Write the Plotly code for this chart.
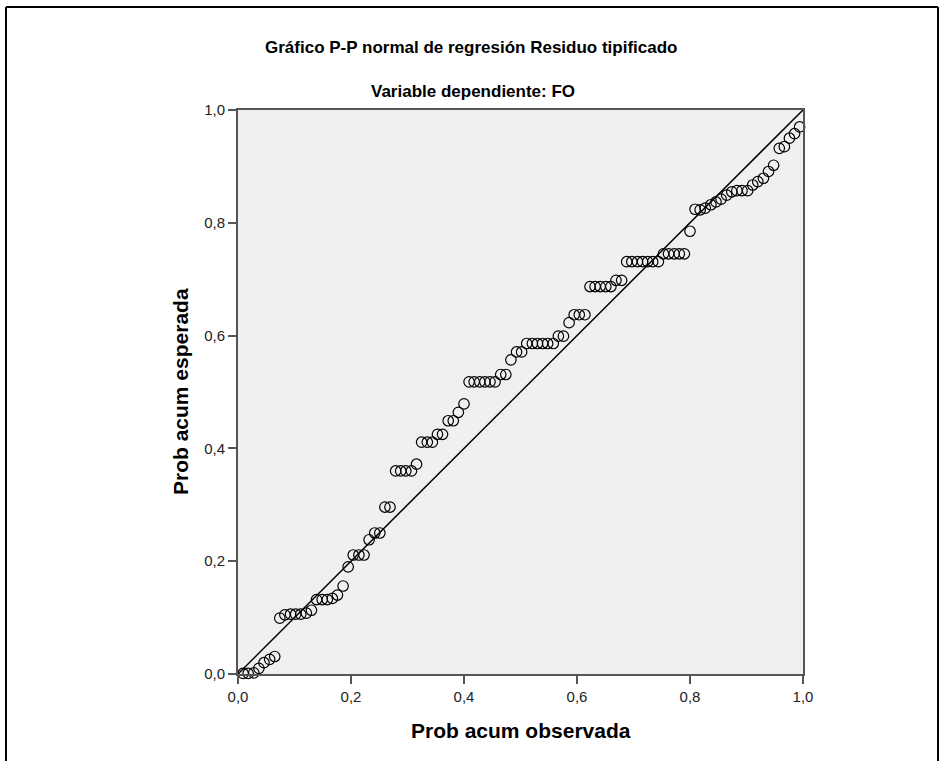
import plotly.graph_objects as go

# Observed cumulative probabilities (x) and expected cumulative probabilities (y)
prob_observada = [
    0.009, 0.018, 0.028, 0.037, 0.046, 0.056, 0.065, 0.074, 0.083, 0.093,
    0.102, 0.111, 0.121, 0.130, 0.139, 0.149, 0.158, 0.167, 0.176, 0.186,
    0.195, 0.204, 0.214, 0.223, 0.232, 0.242, 0.251, 0.260, 0.269, 0.279,
    0.288, 0.297, 0.307, 0.316, 0.325, 0.335, 0.344, 0.353, 0.362, 0.372,
    0.381, 0.390, 0.400, 0.409, 0.418, 0.428, 0.437, 0.446, 0.455, 0.465,
    0.474, 0.483, 0.493, 0.502, 0.511, 0.521, 0.530, 0.539, 0.548, 0.558,
    0.567, 0.576, 0.586, 0.595, 0.604, 0.614, 0.623, 0.632, 0.641, 0.651,
    0.660, 0.669, 0.679, 0.688, 0.697, 0.707, 0.716, 0.725, 0.734, 0.744,
    0.753, 0.762, 0.772, 0.781, 0.790, 0.800, 0.809, 0.818, 0.827, 0.837,
    0.846, 0.855, 0.865, 0.874, 0.883, 0.892, 0.902, 0.911, 0.920, 0.930,
    0.939, 0.948, 0.958, 0.967, 0.976, 0.985, 0.994,
]
prob_esperada = [
    0.001, 0.001, 0.002, 0.010, 0.020, 0.026, 0.031, 0.099, 0.105, 0.106,
    0.106, 0.106, 0.108, 0.113, 0.132, 0.132, 0.132, 0.134, 0.140, 0.156,
    0.190, 0.211, 0.211, 0.211, 0.238, 0.250, 0.250, 0.296, 0.296, 0.360,
    0.360, 0.360, 0.360, 0.372, 0.411, 0.411, 0.411, 0.425, 0.425, 0.449,
    0.449, 0.464, 0.479, 0.518, 0.518, 0.518, 0.518, 0.518, 0.518, 0.531,
    0.531, 0.557, 0.571, 0.571, 0.586, 0.586, 0.586, 0.586, 0.586, 0.586,
    0.599, 0.599, 0.623, 0.637, 0.637, 0.637, 0.687, 0.687, 0.687, 0.687,
    0.687, 0.698, 0.698, 0.731, 0.731, 0.731, 0.731, 0.731, 0.731, 0.731,
    0.745, 0.745, 0.745, 0.745, 0.745, 0.785, 0.824, 0.823, 0.826, 0.832,
    0.837, 0.842, 0.849, 0.855, 0.857, 0.857, 0.857, 0.867, 0.873, 0.879,
    0.891, 0.902, 0.932, 0.935, 0.950, 0.958, 0.970,
]
ref_line = [0.0, 1.0]
tick_vals = [0.0, 0.2, 0.4, 0.6, 0.8, 1.0]

title_text = "Gráfico P-P normal de regresión Residuo tipificado"
subtitle_text = "Variable dependiente: FO"
x_title = "Prob acum observada"
y_title = "Prob acum esperada"

FONT = "Liberation Sans, Arial, sans-serif"

fig = go.Figure()
fig.add_trace(go.Scatter(
    x=ref_line, y=ref_line, mode="lines",
    line=dict(color="black", width=1.5),
    hoverinfo="skip", showlegend=False,
))
fig.add_trace(go.Scatter(
    x=prob_observada, y=prob_esperada, mode="markers",
    marker=dict(symbol="circle-open", size=10.5, color="black",
                line=dict(width=1.2, color="black")),
    cliponaxis=False, showlegend=False,
))

axis_common = dict(
    range=[0, 1], tickvals=tick_vals, tickformat=".1f",
    showgrid=False, zeroline=False,
    showline=True, linecolor="#555555", linewidth=2, mirror=True,
    ticks="outside", ticklen=8, tickwidth=1.5, tickcolor="#555555",
    tickfont=dict(family=FONT, size=15, color="#222222"),
)
fig.update_xaxes(**axis_common)
fig.update_yaxes(**axis_common)

L, R, T, B = 238, 139, 110, 87
W, H = 942, 761
pw, ph = W - L - R, H - T - B

def px_x(px):
    return (px - L) / pw

def px_y(py):
    return (H - B - py) / ph

annotations = [
    dict(text="<b>%s</b>" % title_text, x=px_x(471), y=px_y(47), xref="paper", yref="paper",
         showarrow=False, xanchor="center", yanchor="middle",
         font=dict(family=FONT, size=17, color="black")),
    dict(text="<b>%s</b>" % subtitle_text, x=px_x(473), y=px_y(91), xref="paper", yref="paper",
         showarrow=False, xanchor="center", yanchor="middle",
         font=dict(family=FONT, size=17, color="black")),
    dict(text="<b>%s</b>" % x_title, x=0.5, y=px_y(731), xref="paper", yref="paper",
         showarrow=False, xanchor="center", yanchor="middle",
         font=dict(family=FONT, size=21, color="black")),
    dict(text="<b>%s</b>" % y_title, x=px_x(180), y=0.5, xref="paper", yref="paper",
         showarrow=False, xanchor="center", yanchor="middle", textangle=-90,
         font=dict(family=FONT, size=21, color="black")),
]

frame = dict(color="black", width=2)
shapes = [
    dict(type="line", xref="paper", yref="paper", x0=px_x(6), x1=px_x(6),
         y0=px_y(7), y1=px_y(761), line=frame),
    dict(type="line", xref="paper", yref="paper", x0=px_x(6), x1=px_x(938),
         y0=px_y(7), y1=px_y(7), line=frame),
    dict(type="line", xref="paper", yref="paper", x0=px_x(938), x1=px_x(938),
         y0=px_y(7), y1=px_y(761), line=frame),
]

fig.update_layout(
    width=W, height=H,
    margin=dict(l=L, r=R, t=T, b=B, pad=0),
    paper_bgcolor="white", plot_bgcolor="#F0F0F0",
    separators=",.",
    annotations=annotations, shapes=shapes,
    font=dict(family=FONT),
)

fig.write_html("out.html")
